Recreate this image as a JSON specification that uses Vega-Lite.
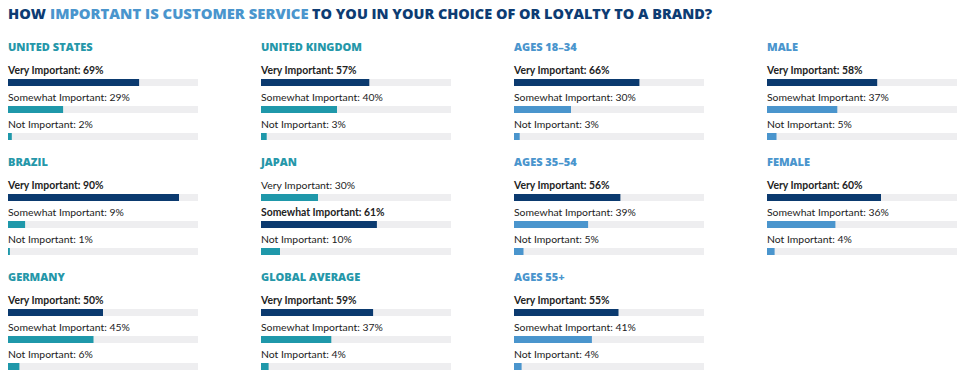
{
  "$schema": "https://vega.github.io/schema/vega-lite/v6.json",
  "background": "white",
  "padding": {"left": 8, "top": 0, "right": 8, "bottom": 0},
  "config": {"view": {"stroke": null}, "font": "Open Sans"},
  "data": {"values": [
    {"panel": "UNITED STATES", "group": "country", "cat": "Very Important", "value": 69},
    {"panel": "UNITED STATES", "group": "country", "cat": "Somewhat Important", "value": 29},
    {"panel": "UNITED STATES", "group": "country", "cat": "Not Important", "value": 2},
    {"panel": "UNITED KINGDOM", "group": "country", "cat": "Very Important", "value": 57},
    {"panel": "UNITED KINGDOM", "group": "country", "cat": "Somewhat Important", "value": 40},
    {"panel": "UNITED KINGDOM", "group": "country", "cat": "Not Important", "value": 3},
    {"panel": "AGES 18–34", "group": "demo", "cat": "Very Important", "value": 66},
    {"panel": "AGES 18–34", "group": "demo", "cat": "Somewhat Important", "value": 30},
    {"panel": "AGES 18–34", "group": "demo", "cat": "Not Important", "value": 3},
    {"panel": "MALE", "group": "demo", "cat": "Very Important", "value": 58},
    {"panel": "MALE", "group": "demo", "cat": "Somewhat Important", "value": 37},
    {"panel": "MALE", "group": "demo", "cat": "Not Important", "value": 5},
    {"panel": "BRAZIL", "group": "country", "cat": "Very Important", "value": 90},
    {"panel": "BRAZIL", "group": "country", "cat": "Somewhat Important", "value": 9},
    {"panel": "BRAZIL", "group": "country", "cat": "Not Important", "value": 1},
    {"panel": "JAPAN", "group": "country", "cat": "Very Important", "value": 30},
    {"panel": "JAPAN", "group": "country", "cat": "Somewhat Important", "value": 61},
    {"panel": "JAPAN", "group": "country", "cat": "Not Important", "value": 10},
    {"panel": "AGES 35–54", "group": "demo", "cat": "Very Important", "value": 56},
    {"panel": "AGES 35–54", "group": "demo", "cat": "Somewhat Important", "value": 39},
    {"panel": "AGES 35–54", "group": "demo", "cat": "Not Important", "value": 5},
    {"panel": "FEMALE", "group": "demo", "cat": "Very Important", "value": 60},
    {"panel": "FEMALE", "group": "demo", "cat": "Somewhat Important", "value": 36},
    {"panel": "FEMALE", "group": "demo", "cat": "Not Important", "value": 4},
    {"panel": "GERMANY", "group": "country", "cat": "Very Important", "value": 50},
    {"panel": "GERMANY", "group": "country", "cat": "Somewhat Important", "value": 45},
    {"panel": "GERMANY", "group": "country", "cat": "Not Important", "value": 6},
    {"panel": "GLOBAL AVERAGE", "group": "country", "cat": "Very Important", "value": 59},
    {"panel": "GLOBAL AVERAGE", "group": "country", "cat": "Somewhat Important", "value": 37},
    {"panel": "GLOBAL AVERAGE", "group": "country", "cat": "Not Important", "value": 4},
    {"panel": "AGES 55+", "group": "demo", "cat": "Very Important", "value": 55},
    {"panel": "AGES 55+", "group": "demo", "cat": "Somewhat Important", "value": 41},
    {"panel": "AGES 55+", "group": "demo", "cat": "Not Important", "value": 4}
  ]},
  "vconcat": [
    {
      "width": 949,
      "height": 19,
      "data": {"values": [{}]},
      "layer": [
        {"mark": {"type": "text", "text": "HOW", "align": "left", "baseline": "alphabetic", "dx": -474.5, "dy": 9, "fontWeight": 800, "fontSize": 14.6, "color": "#0d3c73"}},
        {"mark": {"type": "text", "text": "IMPORTANT IS CUSTOMER SERVICE", "align": "left", "baseline": "alphabetic", "dx": -432.5, "dy": 9, "fontWeight": 800, "fontSize": 14.8, "color": "#4a95cd"}},
        {"mark": {"type": "text", "text": "TO YOU IN YOUR CHOICE OF OR LOYALTY TO A BRAND?", "align": "left", "baseline": "alphabetic", "dx": -170.5, "dy": 9, "fontWeight": 800, "fontSize": 14.45, "color": "#0d3c73"}}
      ]
    },
    {
      "transform": [
        {"joinaggregate": [{"op": "max", "field": "value", "as": "maxv"}], "groupby": ["panel"]},
        {"calculate": "datum.cat + ': ' + datum.value + '%'", "as": "label"}
      ],
      "facet": {
        "field": "panel", "type": "nominal",
        "sort": ["UNITED STATES", "UNITED KINGDOM", "AGES 18–34", "MALE", "BRAZIL", "JAPAN", "AGES 35–54", "FEMALE", "GERMANY", "GLOBAL AVERAGE", "AGES 55+"],
        "header": {
          "title": null,
          "labelAnchor": "start",
          "labelAlign": "left",
          "labelFont": "Open Sans",
          "labelFontSize": 11,
          "labelFontWeight": 800,
          "labelPadding": 13,
          "labelColor": {"expr": "test(/^(AGES|MALE|FEMALE)/, parent['panel']) ? '#4a95cd' : '#2597a9'"}
        }
      },
      "columns": 4,
      "spacing": {"row": 7, "column": 63},
      "spec": {
        "width": 190,
        "height": 81,
        "encoding": {
          "y": {"field": "cat", "type": "nominal", "axis": null,
                "scale": {"domain": ["Very Important", "Somewhat Important", "Not Important"], "paddingInner": 0, "paddingOuter": 0}}
        },
        "layer": [
          {"mark": {"type": "bar", "height": 7, "color": "#eeeef0"},
           "encoding": {"x": {"datum": 0, "type": "quantitative", "scale": {"domain": [0, 100]}, "axis": null}, "x2": {"datum": 100}}},
          {"mark": {"type": "bar", "height": 7},
           "encoding": {
             "x": {"field": "value", "type": "quantitative", "scale": {"domain": [0, 100]}, "axis": null},
             "color": {"condition": {"test": "datum.value == datum.maxv", "value": "#0b3a6f"},
                       "field": "group", "type": "nominal",
                       "scale": {"domain": ["country", "demo"], "range": ["#1f98aa", "#4a95cd"]}, "legend": null}
           }},
          {"transform": [{"filter": "datum.value != datum.maxv"}],
           "mark": {"type": "text", "align": "left", "baseline": "alphabetic", "dy": -8.5, "font": "Lato", "fontSize": 10.4, "color": "#222222"},
           "encoding": {"x": {"datum": 0, "type": "quantitative"}, "text": {"field": "label"}}},
          {"transform": [{"filter": "datum.value == datum.maxv"}],
           "mark": {"type": "text", "align": "left", "baseline": "alphabetic", "dy": -8.5, "font": "Lato", "fontSize": 10.4, "fontWeight": "bold", "color": "#222222"},
           "encoding": {"x": {"datum": 0, "type": "quantitative"}, "text": {"field": "label"}}}
        ]
      }
    }
  ]
}
